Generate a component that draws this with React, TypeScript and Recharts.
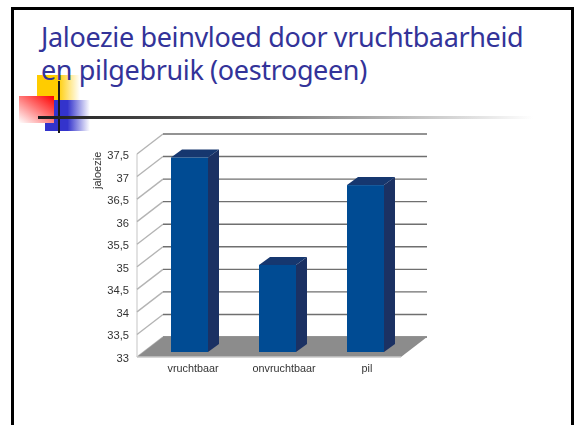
import { BarChart, Bar, XAxis, YAxis, CartesianGrid } from 'recharts'

const categories = ['vruchtbaar', 'onvruchtbaar', 'pil']
const jaloezie = [37.31, 34.93, 36.7]
const yTicks = [33, 33.5, 34, 34.5, 35, 35.5, 36, 36.5, 37, 37.5]

const data = categories.map((name, i) => ({ name, jaloezie: jaloezie[i] }))

// plot area inside the 576x425 chart
const MARGIN = { top: 154, right: 175, bottom: 38, left: 77 }
const X_AXIS_HEIGHT = 30
const PLOT_BOTTOM = 425 - MARGIN.bottom - X_AXIS_HEIGHT

// fake 3D depth of the chart box, and of the bars standing in it
const DEPTH_X = 26
const DEPTH_Y = 20
const BAR_DX = 8
const BAR_DY = 5
const SIDE_X = 11
const SIDE_Y = 8
// labels sit a bit off the bar centres in the original
const LABEL_NUDGE = [12, 15, 10]

function formatTick(v: number) {
  return String(v).replace('.', ',')
}

function Bar3D({ x, y, width, height }: any) {
  const left = x + BAR_DX
  const right = left + width
  const top = y - BAR_DY
  const bottom = y + height - BAR_DY
  return (
    <g>
      <polygon
        points={`${right},${top} ${right + SIDE_X},${top - SIDE_Y} ${right + SIDE_X},${bottom - SIDE_Y} ${right},${bottom}`}
        fill="#1b3163"
      />
      <polygon
        points={`${left},${top} ${left + SIDE_X},${top - SIDE_Y} ${right + SIDE_X},${top - SIDE_Y} ${right},${top}`}
        fill="#16376f"
      />
      <rect x={left} y={top} width={width} height={height} fill="#004b93" />
    </g>
  )
}

function GridLine3D({ x1, y1, x2 }: any) {
  const backY = y1 - DEPTH_Y
  const isFloor = Math.abs(y1 - PLOT_BOTTOM) < 1
  return (
    <g fill="none" strokeWidth={1.4}>
      <line x1={x1} y1={y1} x2={x1 + DEPTH_X} y2={backY} stroke="#b4b4b4" />
      <line x1={x1 + DEPTH_X} y1={backY} x2={x2 + DEPTH_X} y2={backY} stroke="#6f6f6f" />
      {isFloor && (
        <>
          <polygon
            points={`${x1},${y1} ${x2},${y1} ${x2 + DEPTH_X},${backY} ${x1 + DEPTH_X},${backY}`}
            fill="#8c8c8c"
            stroke="none"
          />
          <line x1={x1} y1={y1} x2={x2} y2={y1} stroke="#c8c8c8" />
          <line x1={x1} y1={MARGIN.top} x2={x1} y2={y1} stroke="#cfcfcf" strokeWidth={1.2} />
        </>
      )}
    </g>
  )
}

function CategoryTick({ x, y, index, payload }: any) {
  return (
    <text x={x + LABEL_NUDGE[index]} y={y + 6.5} textAnchor="middle" fontSize={10.8} fill="#333">
      {payload.value}
    </text>
  )
}

const box = (style: React.CSSProperties) => <div style={{ position: 'absolute', ...style }} />

export default function App() {
  return (
    <div style={{ position: 'fixed', left: 0, top: 0, width: 576, height: 425, background: '#fff', overflow: 'hidden' }}>
      {/* slide frame */}
      {box({ left: 11, top: 7, width: 557, height: 430, border: '3px solid #000' })}

      {/* slide template decoration */}
      {box({ left: 37, top: 75, width: 43, height: 25, background: 'linear-gradient(90deg, #ffcc00 0%, #ffcc00 48%, #ffffff 100%)' })}
      {box({ left: 45, top: 100, width: 45, height: 31, background: 'linear-gradient(90deg, #3333cc 0%, #3333cc 50%, #ffffff 100%)' })}
      {box({ left: 19, top: 96, width: 35, height: 27, background: 'linear-gradient(215deg, #ff0000 0%, #ff7070 45%, #ffffff 100%)' })}
      {box({ left: 58, top: 81, width: 2, height: 52, background: '#1a1a1a' })}
      {box({ left: 38, top: 116, width: 495, height: 3, background: 'linear-gradient(90deg, #1a1a1a 0%, #666 40%, #ffffff 100%)' })}

      <div
        style={{
          position: 'absolute',
          left: 41,
          top: 20,
          fontFamily: '"Noto Sans", sans-serif',
          fontSize: 27,
          letterSpacing: -0.36,
          lineHeight: '33px',
          color: '#333399',
          whiteSpace: 'nowrap',
        }}
      >
        Jaloezie beinvloed door vruchtbaarheid
        <br />
        en pilgebruik (oestrogeen)
      </div>

      <div style={{ position: 'absolute', left: 0, top: 0, filter: 'blur(0.35px)' }}>
        <BarChart
          width={576}
          height={425}
          data={data}
          barSize={37}
          margin={MARGIN}
          style={{ fontFamily: '"Liberation Sans", Arial, sans-serif' }}
        >
          <CartesianGrid horizontal={(p: any) => <GridLine3D key={p.key} {...p} />} vertical={false} />
          <XAxis
            dataKey="name"
            height={X_AXIS_HEIGHT}
            axisLine={false}
            tickLine={false}
            interval={0}
            tick={<CategoryTick />}
          />
          <YAxis
            width={60}
            domain={[33, 37.5]}
            ticks={yTicks}
            interval={0}
            tickFormatter={formatTick}
            axisLine={false}
            tickLine={false}
            tickMargin={0}
            tick={{ fontSize: 11.2, fill: '#333', dx: -2, dy: 1 }}
            label={{ value: 'jaloezie', angle: -90, position: 'insideTopLeft', dx: 11, dy: 30, fontSize: 11, fill: '#333' }}
          />
          <Bar dataKey="jaloezie" shape={<Bar3D />} isAnimationActive={false} />
        </BarChart>
      </div>
    </div>
  )
}
